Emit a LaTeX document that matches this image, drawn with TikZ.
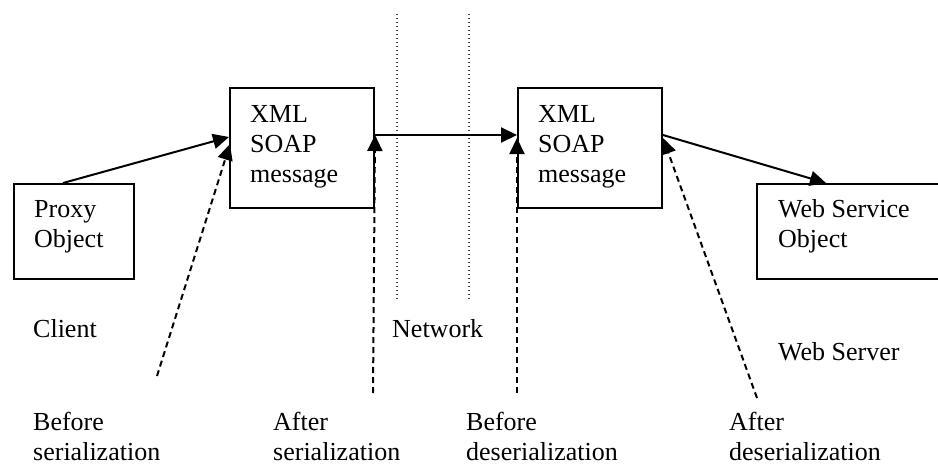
\documentclass[tikz,border=0pt]{standalone}
\usepackage{fontspec}
\setmainfont{Liberation Serif}
\usetikzlibrary{arrows.meta,calc}

\tikzset{
  box/.style={draw, line width=2pt, inner sep=0pt, anchor=north west},
  % multi-line text: the base anchor sits on the last line
  txt/.style={anchor=base west, inner sep=0pt, align=left,
              font=\fontsize{26}{30}\selectfont},
  flow/.style={line width=2pt, -{Triangle[length=16pt,width=15pt]}},
  probe/.style={flow, dash pattern=on 6pt off 4pt},
  netline/.style={line width=1.2pt, black!75, dash pattern=on 1.2pt off 2.8pt},
}

\begin{document}
\begin{tikzpicture}[x=1pt,y=-1pt]
  \useasboundingbox (0,0) rectangle (938,466);
  \clip (0,0) rectangle (938,466);

  % network boundary
  \coordinate (n1t) at (397,14);  \coordinate (n1b) at (397,300);
  \coordinate (n2t) at (469,14);  \coordinate (n2b) at (469,300);
  \draw[netline] (n1t) -- (n1b);
  \draw[netline] (n2t) -- (n2b);

  % boxes
  \node[box, minimum width=120pt, minimum height=95pt]  (proxy) at (13,183) {};
  \node[box, minimum width=144pt, minimum height=120pt] (msgA)  at (229,87) {};
  \node[box, minimum width=144pt, minimum height=120pt] (msgB)  at (517,87) {};
  \node[box, minimum width=200pt, minimum height=95pt]  (ws)    at (756,183) {};

  % box texts
  \node[txt] (tproxy) at (34,247)  {Proxy\\Object};
  \node[txt] (tmsgA)  at (250,182) {XML\\SOAP\\message};
  \node[txt] (tmsgB)  at (538,182) {XML\\SOAP\\message};
  \node[txt] (tws)    at (778,247) {Web Service\\Object};

  % region labels
  \node[txt] (client)  at (33,337)  {Client};
  \node[txt] (network) at (392,337) {Network};
  \node[txt] (server)  at (778,360) {Web Server};

  % stage labels
  \node[txt] (s1) at (33,460)  {Before\\serialization};
  \node[txt] (s2) at (273,460) {After\\serialization};
  \node[txt] (s3) at (466,460) {Before\\deserialization};
  \node[txt] (s4) at (729,460) {After\\deserialization};

  % message flow
  \draw[flow] ($(proxy.north west)+(50,0)$) -- ($(msgA.north west)+(0,50)$);
  \draw[flow] ($(msgA.north east)+(0,48)$) -- ($(msgB.north west)+(0,48)$);
  \draw[flow] ($(msgB.north east)+(0,48)$) -- ($(ws.north west)+(70,0)$);

  % stage pointers
  \coordinate (p1) at (157,376);
  \coordinate (p2) at (373,393);
  \coordinate (p3) at (517,393);
  \coordinate (p4) at (757,398);
  \draw[probe] (p1) -- ($(msgA.north west)+(1,57)$);
  \draw[probe] (p2) -- ($(msgA.north east)+(0,48)$);
  \draw[probe] (p3) -- ($(msgB.north west)+(0,51)$);
  \draw[probe] (p4) -- ($(msgB.north east)+(0,51)$);
\end{tikzpicture}
\end{document}
